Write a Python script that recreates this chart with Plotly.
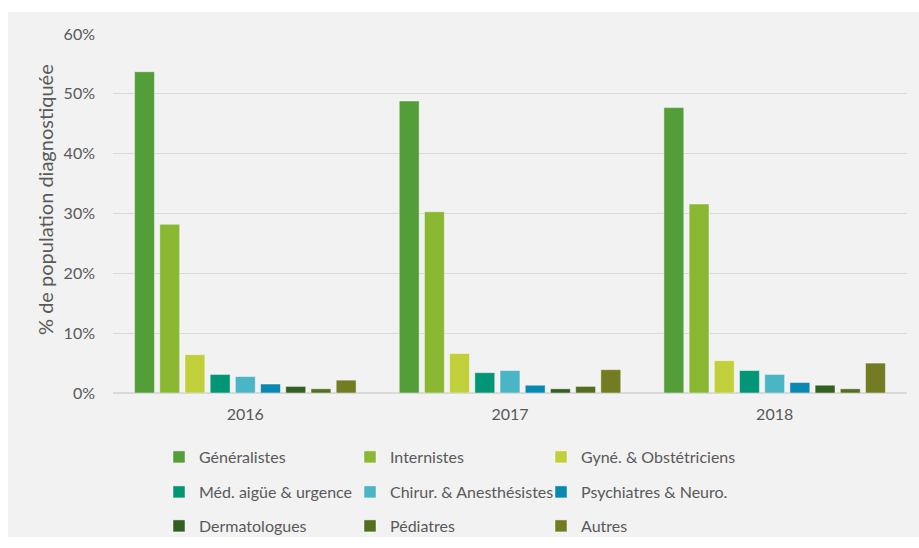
import plotly.graph_objects as go

years = ["2016", "2017", "2018"]
series_names = ["Généralistes", "Internistes", "Gyné. & Obstétriciens",
                "Méd. aigüe & urgence", "Chirur. & Anesthésistes", "Psychiatres & Neuro.",
                "Dermatologues", "Pédiatres", "Autres"]
generalistes = [53.7, 48.8, 47.7]
internistes = [28.2, 30.3, 31.6]
gyne = [6.4, 6.6, 5.4]
med_urgence = [3.1, 3.4, 3.75]
chirur = [2.75, 3.75, 3.1]
psych = [1.5, 1.3, 1.75]
dermato = [1.1, 0.7, 1.3]
pediatres = [0.7, 1.1, 0.7]
autres = [2.15, 3.9, 5.0]
series_values = [generalistes, internistes, gyne, med_urgence, chirur, psych, dermato, pediatres, autres]
colors = ["#549E39", "#8AB833", "#C0CF3A", "#029676", "#4AB5C4", "#0989B1",
          "#325F22", "#536E1F", "#737C23"]
y_ticks = [0, 10, 20, 30, 40, 50, 60]
y_tick_labels = ["0%", "10%", "20%", "30%", "40%", "50%", "60%"]
y_title = "% de population diagnostiquée"

FONT = "Lato, 'Liberation Sans', sans-serif"
TXT = "#595959"

L, R, T, B = 113, 12, 34, 155
PW = 919 - L - R
PH = 548 - T - B

fig = go.Figure()
legend_ids = ["legend", "legend2", "legend3"]
for i, (name, vals, col) in enumerate(zip(series_names, series_values, colors)):
    fig.add_trace(go.Bar(x=years, y=vals, name=name, legend=legend_ids[i // 3],
                         marker=dict(color=col, line=dict(color="rgba(255,255,255,0.45)", width=1))))
# invisible spacer entries so the last legend column is not clipped
for lg in legend_ids:
    fig.add_trace(go.Scatter(x=[None], y=[None], name=" ", legend=lg, mode="markers",
                             hoverinfo="skip", marker=dict(color="rgba(0,0,0,0)", size=1)))

leg_common = dict(orientation="h", xref="paper", yref="paper", x=(159 - L) / PW, xanchor="left",
                  yanchor="middle", entrywidth=146, entrywidthmode="pixels",
                  font=dict(family=FONT, size=16, color=TXT), bgcolor="rgba(0,0,0,0)",
                  itemwidth=30, tracegroupgap=0)

fig.update_layout(
    width=919, height=548,
    margin=dict(l=L, r=R, t=T, b=B, autoexpand=False),
    paper_bgcolor="white", plot_bgcolor="rgba(0,0,0,0)",
    barmode="group", bargap=0.143, bargroupgap=0.21,
    font=dict(family=FONT, size=15, color=TXT),
    legend=dict(**leg_common, y=-(457 - 393) / PH),
    legend2=dict(**leg_common, y=-(492 - 393) / PH),
    legend3=dict(**leg_common, y=-(526 - 393) / PH),
    shapes=[dict(type="rect", xref="paper", yref="paper", layer="below",
                 x0=(8 - L) / PW, x1=(919 - L) / PW, y0=-(537 - 393) / PH, y1=(393 - 12) / PH,
                 fillcolor="#F2F2F2", line=dict(width=0))],
    annotations=[dict(text=y_title, textangle=-90, xref="paper", yref="paper",
                      x=(45 - L) / PW, y=(393 - 200) / PH, xanchor="center", yanchor="middle",
                      showarrow=False, font=dict(family=FONT, size=20, color=TXT))],
)
fig.update_xaxes(showgrid=False, ticks="", showline=False, zeroline=False,
                 tickfont=dict(family=FONT, size=16, color=TXT), ticklabelstandoff=10)
fig.update_yaxes(range=[0, 60], tickvals=y_ticks, ticktext=y_tick_labels,
                 showgrid=True, gridcolor="#D9D9D9", gridwidth=1,
                 zeroline=True, zerolinecolor="#D9D9D9", zerolinewidth=2,
                 showline=False, ticks="", ticklabelstandoff=17,
                 tickfont=dict(family=FONT, size=16, color=TXT))

fig.write_html("out.html", config={"displayModeBar": False},
               post_script="document.body.style.margin='0';")
